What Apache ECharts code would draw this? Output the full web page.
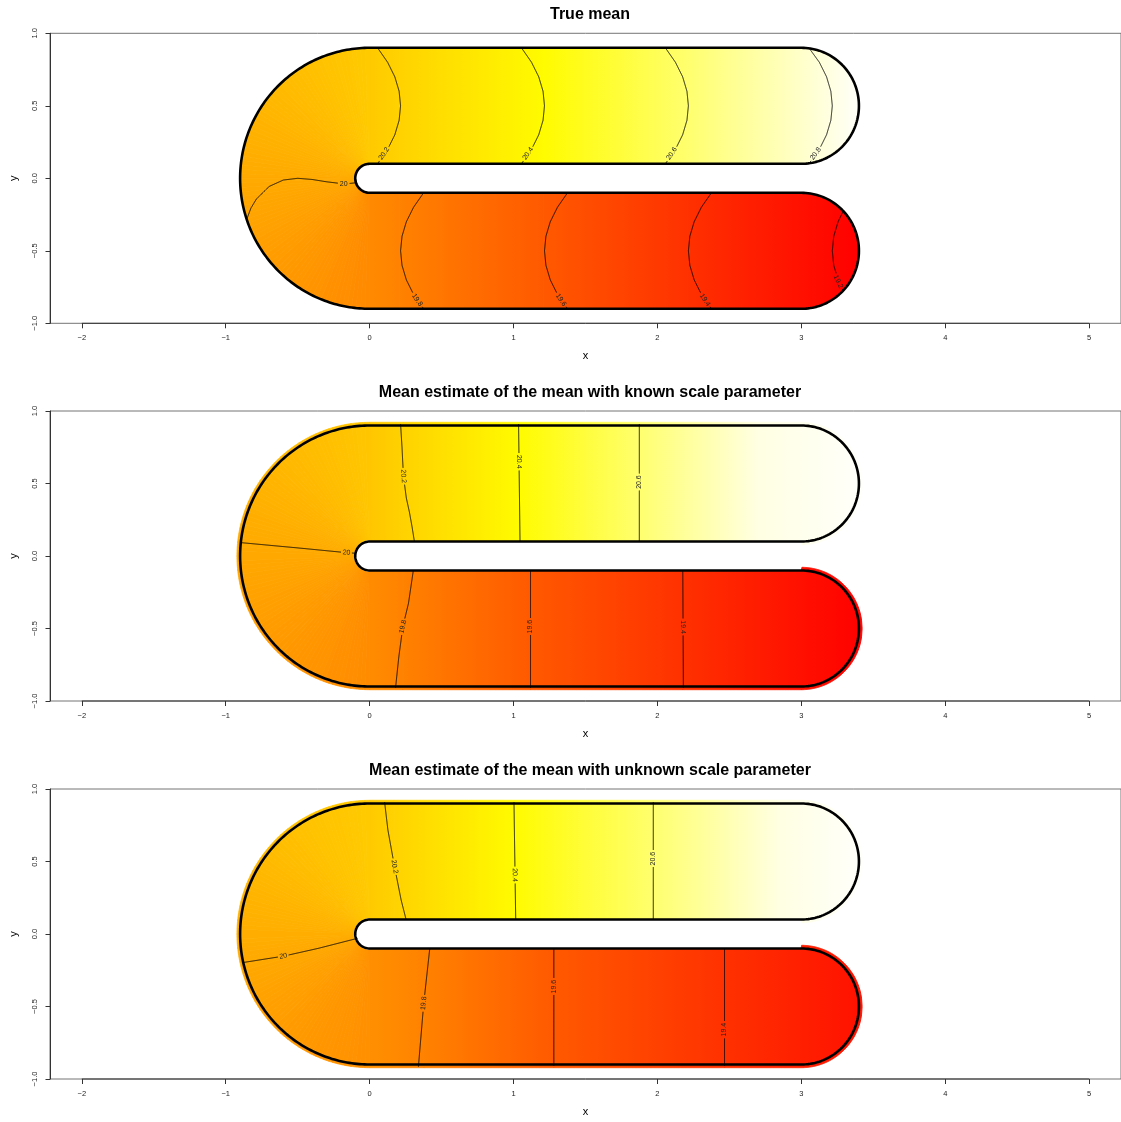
<!DOCTYPE html>
<html>
<head>
<meta charset="utf-8">
<script src="https://cdn.jsdelivr.net/npm/echarts@6/dist/echarts.min.js"></script>
<style>
  html, body { margin: 0; padding: 0; background: #ffffff; }
  #chart { width: 1121px; height: 1122px; }
</style>
</head>
<body>
<div id="chart"></div>
<script>
// ---------- horseshoe domain geometry ----------
const ARM_LENGTH = 3;     // length of the two straight arms
const CENTRE_R = 0.5;     // radius of the centre line through the bend
const HALF_WIDTH = 0.4;   // half width of the horseshoe

// ---------- axes ----------
const xTicks = [-2, -1, 0, 1, 2, 3, 4, 5];
const yTicks = [-1, -0.5, 0, 0.5, 1];
const panelTitles = [
  'True mean',
  'Mean estimate of the mean with known scale parameter',
  'Mean estimate of the mean with unknown scale parameter'
];

// colour scale limits (heat colours: red -> yellow -> white)
const zLimits = [19.16, 20.84];

// ---------- panel 1: true mean ----------
const trueUpperX = [0, 0.21, 1.21, 2.21, 3.21, 3.4];
const trueUpperV = [20.16, 20.2, 20.4, 20.6, 20.8, 20.84];
const trueLowerX = [0, 0.21, 1.21, 2.21, 3.21, 3.4];
const trueLowerV = [19.84, 19.8, 19.6, 19.4, 19.2, 19.16];
const trueBendAngle = [-90, -60, -30, 0, 30, 60, 90];
const trueBendV = [19.84, 19.895, 19.948, 20.0, 20.052, 20.105, 20.16];

const trueContours = [
  { level: '20.2', x: [0.055, 0.125, 0.175, 0.205, 0.215, 0.205, 0.175, 0.125, 0.055], y: [0.9, 0.8, 0.7, 0.6, 0.5, 0.4, 0.3, 0.2, 0.1], at: [0.10, 0.17] },
  { level: '20.4', x: [1.055, 1.125, 1.175, 1.205, 1.215, 1.205, 1.175, 1.125, 1.055], y: [0.9, 0.8, 0.7, 0.6, 0.5, 0.4, 0.3, 0.2, 0.1], at: [1.10, 0.17] },
  { level: '20.6', x: [2.055, 2.125, 2.175, 2.205, 2.215, 2.205, 2.175, 2.125, 2.055], y: [0.9, 0.8, 0.7, 0.6, 0.5, 0.4, 0.3, 0.2, 0.1], at: [2.10, 0.17] },
  { level: '20.8', x: [3.055, 3.125, 3.175, 3.205, 3.215, 3.205, 3.175, 3.125, 3.055], y: [0.896, 0.8, 0.7, 0.6, 0.5, 0.4, 0.3, 0.2, 0.104], at: [3.10, 0.17] },
  { level: '19.8', x: [0.375, 0.305, 0.255, 0.225, 0.215, 0.225, 0.255, 0.305, 0.375], y: [-0.1, -0.2, -0.3, -0.4, -0.5, -0.6, -0.7, -0.8, -0.9], at: [0.33, -0.84] },
  { level: '19.6', x: [1.375, 1.305, 1.255, 1.225, 1.215, 1.225, 1.255, 1.305, 1.375], y: [-0.1, -0.2, -0.3, -0.4, -0.5, -0.6, -0.7, -0.8, -0.9], at: [1.33, -0.84] },
  { level: '19.4', x: [2.375, 2.305, 2.255, 2.225, 2.215, 2.225, 2.255, 2.305, 2.375], y: [-0.1, -0.2, -0.3, -0.4, -0.5, -0.6, -0.7, -0.8, -0.9], at: [2.33, -0.84] },
  { level: '19.2', x: [3.291, 3.255, 3.225, 3.215, 3.225, 3.255, 3.291], y: [-0.225, -0.3, -0.4, -0.5, -0.6, -0.7, -0.775], at: [3.256, -0.713] },
  { level: '20', x: [-0.854, -0.825, -0.787, -0.698, -0.6, -0.5, -0.4, -0.3, -0.2, -0.146, -0.095], y: [-0.283, -0.206, -0.143, -0.056, -0.012, 0, -0.008, -0.024, -0.036, -0.036, -0.031], at: [-0.18, -0.037] }
];

// ---------- panel 2: known scale parameter ----------
const knownUpperX = [0, 0.235, 1.04, 1.874, 2.7, 3.4];
const knownUpperV = [20.14, 20.2, 20.4, 20.6, 20.8, 20.95];
const knownLowerX = [0, 0.23, 1.118, 2.176, 3.0, 3.4];
const knownLowerV = [19.85, 19.8, 19.6, 19.4, 19.24, 19.17];
const knownBendAngle = [-90, -60, -30, 0, 30, 60, 90];
const knownBendV = [19.85, 19.895, 19.94, 19.99, 20.04, 20.09, 20.14];

const knownContours = [
  { level: '20.2', x: [0.215, 0.225, 0.235, 0.255, 0.277, 0.295, 0.311], y: [0.91, 0.75, 0.55, 0.4, 0.3, 0.2, 0.1], at: [0.235, 0.55] },
  { level: '20.4', x: [1.035, 1.04, 1.045], y: [0.91, 0.5, 0.1], at: [1.038, 0.65] },
  { level: '20.6', x: [1.874, 1.874], y: [0.91, 0.1], at: [1.874, 0.51] },
  { level: '20', x: [-0.892, -0.47, -0.161, -0.099], y: [0.092, 0.053, 0.023, 0.019], at: [-0.161, 0.023] },
  { level: '19.8', x: [0.304, 0.27, 0.231, 0.203, 0.18], y: [-0.097, -0.326, -0.487, -0.694, -0.91], at: [0.231, -0.487] },
  { level: '19.6', x: [1.118, 1.118], y: [-0.1, -0.91], at: [1.118, -0.487] },
  { level: '19.4', x: [2.176, 2.18], y: [-0.1, -0.91], at: [2.177, -0.49] }
];

// ---------- panel 3: unknown scale parameter ----------
const unknownUpperX = [0, 0.17, 1.01, 1.971, 2.85, 3.4];
const unknownUpperV = [20.16, 20.2, 20.4, 20.6, 20.8, 20.92];
const unknownLowerX = [0, 0.376, 1.28, 2.466, 3.4];
const unknownLowerV = [19.87, 19.8, 19.6, 19.4, 19.25];
const unknownBendAngle = [-90, -60, -30, 0, 30, 60, 90];
const unknownBendV = [19.87, 19.91, 19.96, 20.02, 20.07, 20.12, 20.16];

const unknownContours = [
  { level: '20.2', x: [0.104, 0.127, 0.173, 0.219, 0.254], y: [0.91, 0.717, 0.464, 0.234, 0.097], at: [0.173, 0.464] },
  { level: '20.4', x: [1.003, 1.015], y: [0.91, 0.1], at: [1.008, 0.407] },
  { level: '20.6', x: [1.971, 1.971], y: [0.91, 0.1], at: [1.971, 0.52] },
  { level: '20', x: [-0.887, -0.6, -0.357, -0.085], y: [-0.198, -0.153, -0.099, -0.03], at: [-0.6, -0.153] },
  { level: '19.8', x: [0.418, 0.376, 0.339], y: [-0.099, -0.478, -0.915], at: [0.376, -0.478] },
  { level: '19.6', x: [1.28, 1.28], y: [-0.1, -0.91], at: [1.28, -0.363] },
  { level: '19.4', x: [2.466, 2.466], y: [-0.1, -0.91], at: [2.466, -0.66] }
];

// ---------- layout ----------
const FONT = '"Liberation Sans", Arial, Helvetica, sans-serif';
const gridTops = [33.3, 411, 789];
const titleTops = [2, 380, 758];
const fringePad = [0, 0.022, 0.022];   // raster cells spilling over the outer edge
const innerPad = [0, 0.012, 0.012];    // raster cells falling short of the inner bend

const panels = [
  { upperX: trueUpperX, upperV: trueUpperV, lowerX: trueLowerX, lowerV: trueLowerV, bendA: trueBendAngle, bendV: trueBendV, contours: trueContours },
  { upperX: knownUpperX, upperV: knownUpperV, lowerX: knownLowerX, lowerV: knownLowerV, bendA: knownBendAngle, bendV: knownBendV, contours: knownContours },
  { upperX: unknownUpperX, upperV: unknownUpperV, lowerX: unknownLowerX, lowerV: unknownLowerV, bendA: unknownBendAngle, bendV: unknownBendV, contours: unknownContours }
];

// R-style heat colour ramp
function heatColor(v) {
  let f = (v - zLimits[0]) / (zLimits[1] - zLimits[0]);
  f = Math.max(0, Math.min(1, f));
  let g, b;
  if (f <= 0.75) { g = 255 * f / 0.75; b = 0; }
  else { g = 255; const s = 0.98 - 0.96 * (f - 0.75) / 0.25; b = 255 * (1 - s); }
  return 'rgb(255,' + Math.round(g) + ',' + Math.round(b) + ')';
}

function fmtNum(v) {
  return (v < 0 ? '\u2212' : '') + Math.abs(v);
}

// consecutive stop pairs -> one strip each
function stopPairs(xs, vs) {
  const out = [];
  for (let i = 0; i < xs.length - 1; i++) {
    out.push([xs[i], vs[i], xs[i + 1], vs[i + 1], i === xs.length - 2 ? 1 : 0]);
  }
  return out;
}

// one colour strip of an arm (straight part and end cap)
function armRenderer(yc, pad) {
  return function (params, api) {
    const xa = api.value(0), va = api.value(1), xb = api.value(2), vb = api.value(3), last = api.value(4);
    const h = HALF_WIDTH, R = h + pad;
    const xEnd = last ? ARM_LENGTH + R : xb;
    const edge = function (x, side) {
      if (x <= ARM_LENGTH) {
        const outer = (side > 0) === (yc > 0);
        return yc + side * (outer ? h + pad : h);
      }
      const dx = x - ARM_LENGTH;
      return yc + side * Math.sqrt(Math.max(0, R * R - dx * dx));
    };
    const n = Math.max(2, Math.ceil((xEnd - xa) / 0.004));
    const top = [], bot = [];
    for (let k = 0; k <= n; k++) {
      const x = xa + (xEnd - xa) * k / n;
      top.push(api.coord([x, edge(x, 1)]));
      bot.push(api.coord([x, edge(x, -1)]));
    }
    const pts = top.concat(bot.reverse());
    const p0 = api.coord([xa, yc]), p1 = api.coord([xb, yc]);
    const grad = {
      type: 'linear', x: p0[0], y: p0[1], x2: p1[0], y2: p1[1], global: true,
      colorStops: [{ offset: 0, color: heatColor(va) }, { offset: 1, color: heatColor(vb) }]
    };
    return { type: 'polygon', shape: { points: pts }, style: { fill: grad, stroke: grad, lineWidth: 1 } };
  };
}

// one sector of the bend, shaded in thin slices
function bendRenderer(pad, inPad) {
  return function (params, api) {
    const pa = api.value(0), va = api.value(1), pb = api.value(2), vb = api.value(3);
    const rOut = CENTRE_R + HALF_WIDTH + pad, rIn = CENTRE_R - HALF_WIDTH + inPad;
    const steps = Math.max(1, Math.ceil((pb - pa) / 2));
    const children = [];
    for (let k = 0; k < steps; k++) {
      const a0 = pa + (pb - pa) * k / steps, a1 = pa + (pb - pa) * (k + 1) / steps;
      const col = heatColor(va + (vb - va) * (k + 0.5) / steps);
      const pts = [];
      const m = 3;
      for (let j = 0; j <= m; j++) {
        const t = (180 - (a0 + (a1 - a0) * j / m)) * Math.PI / 180;
        pts.push(api.coord([rOut * Math.cos(t), rOut * Math.sin(t)]));
      }
      for (let j = m; j >= 0; j--) {
        const t = (180 - (a0 + (a1 - a0) * j / m)) * Math.PI / 180;
        pts.push(api.coord([rIn * Math.cos(t), rIn * Math.sin(t)]));
      }
      children.push({ type: 'polygon', shape: { points: pts }, style: { fill: col, stroke: col, lineWidth: 0.8 } });
    }
    return { type: 'group', children: children };
  };
}

// outline of the horseshoe in data coordinates
function boundaryPoints() {
  const pts = [];
  const arc = function (cx, cy, r, t0, t1, n) {
    for (let k = 0; k <= n; k++) {
      const t = (t0 + (t1 - t0) * k / n) * Math.PI / 180;
      pts.push([cx + r * Math.cos(t), cy + r * Math.sin(t)]);
    }
  };
  const L = ARM_LENGTH, h = HALF_WIDTH, rc = CENTRE_R;
  pts.push([0, rc + h]);
  arc(L, rc, h, 90, -90, 80);
  arc(0, 0, rc - h, 90, 270, 40);
  arc(L, -rc, h, 90, -90, 80);
  arc(0, 0, rc + h, 270, 90, 160);
  return pts;
}
const outline = boundaryPoints();

const measureCtx = document.createElement('canvas').getContext('2d');
const LABEL_SIZE = 7;
function textWidth(s) {
  measureCtx.font = LABEL_SIZE + 'px ' + FONT;
  return measureCtx.measureText(s).width;
}

// contour line broken around its inline label
function contourRenderer(list) {
  return function (params, api) {
    const c = list[params.dataIndex];
    const pix = c.x.map(function (x, i) { return api.coord([x, c.y[i]]); });
    const lc = api.coord(c.at);
    const rad = textWidth(c.level) / 2 + 1.5;
    const runs = [];
    let cur = [];
    for (let i = 0; i < pix.length - 1; i++) {
      const x0 = pix[i][0], y0 = pix[i][1], x1 = pix[i + 1][0], y1 = pix[i + 1][1];
      const n = Math.max(1, Math.ceil(Math.hypot(x1 - x0, y1 - y0) / 0.5));
      for (let k = (i === 0 ? 0 : 1); k <= n; k++) {
        const x = x0 + (x1 - x0) * k / n, y = y0 + (y1 - y0) * k / n;
        if (Math.hypot(x - lc[0], y - lc[1]) < rad) {
          if (cur.length > 1) runs.push(cur);
          cur = [];
        } else {
          cur.push([x, y]);
        }
      }
    }
    if (cur.length > 1) runs.push(cur);
    // direction of the nearest segment
    let best = Infinity, dir = [0, 1];
    for (let i = 0; i < pix.length - 1; i++) {
      const ax = pix[i][0], ay = pix[i][1], bx = pix[i + 1][0], by = pix[i + 1][1];
      const vx = bx - ax, vy = by - ay;
      const L2 = vx * vx + vy * vy || 1;
      let t = ((lc[0] - ax) * vx + (lc[1] - ay) * vy) / L2;
      t = Math.max(0, Math.min(1, t));
      const d = Math.hypot(ax + t * vx - lc[0], ay + t * vy - lc[1]);
      if (d < best) { best = d; dir = [vx, vy]; }
    }
    let ang = Math.atan2(-dir[1], dir[0]);
    if (ang > Math.PI / 2) ang -= Math.PI;
    if (ang <= -Math.PI / 2) ang += Math.PI;
    const children = runs.map(function (r) {
      return { type: 'polyline', shape: { points: r }, style: { stroke: '#000', lineWidth: 0.9, fill: null } };
    });
    children.push({
      type: 'text', x: lc[0], y: lc[1], rotation: ang,
      style: { text: c.level, fontSize: LABEL_SIZE, fontFamily: FONT, fill: '#222', align: 'center', verticalAlign: 'middle' }
    });
    return { type: 'group', children: children };
  };
}

const grids = [], xAxes = [], yAxes = [], titles = [], series = [];
panels.forEach(function (p, i) {
  grids.push({ left: 47, top: gridTops[i], width: 1076, height: 290, show: true, borderColor: '#747474', borderWidth: 1, backgroundColor: 'transparent' });
  xAxes.push({
    type: 'value', gridIndex: i, min: -2.221, max: 5.221,
    name: 'x', nameLocation: 'middle', nameGap: 27,
    nameTextStyle: { fontSize: 11, fontFamily: FONT, color: '#000' },
    axisLine: { show: false, onZero: false },
    axisTick: { show: true, length: 5, customValues: xTicks, lineStyle: { color: '#333' } },
    axisLabel: { customValues: xTicks, fontSize: 7.5, fontFamily: FONT, color: '#222', margin: 11, formatter: fmtNum },
    splitLine: { show: false }
  });
  yAxes.push({
    type: 'value', gridIndex: i, min: yTicks[0], max: yTicks[yTicks.length - 1], interval: 0.5,
    name: 'y', nameLocation: 'middle', nameGap: 31, nameRotate: 90,
    nameTextStyle: { fontSize: 11, fontFamily: FONT, color: '#000' },
    axisLine: { show: true, onZero: false, lineStyle: { color: '#333', width: 1 } },
    axisTick: { show: true, length: 4.5, lineStyle: { color: '#333' } },
    axisLabel: { rotate: 90, fontSize: 7.5, fontFamily: FONT, color: '#222', margin: 11, formatter: function (v) { return (v < 0 ? '\u2212' : '') + Math.abs(v).toFixed(1); } },
    splitLine: { show: false }
  });
  titles.push({
    text: panelTitles[i], left: 585, top: titleTops[i], textAlign: 'center',
    textStyle: { fontSize: 16, fontWeight: 'bold', fontFamily: FONT, color: '#000' }
  });

  const common = { type: 'custom', xAxisIndex: i, yAxisIndex: i, silent: true, animation: false, clip: false };
  series.push(Object.assign({}, common, { name: 'upper arm ' + i, z: 1, renderItem: armRenderer(CENTRE_R, fringePad[i]), data: stopPairs(p.upperX, p.upperV) }));
  series.push(Object.assign({}, common, { name: 'lower arm ' + i, z: 1, renderItem: armRenderer(-CENTRE_R, fringePad[i]), data: stopPairs(p.lowerX, p.lowerV) }));
  series.push(Object.assign({}, common, { name: 'bend ' + i, z: 1, renderItem: bendRenderer(fringePad[i], innerPad[i]), data: stopPairs(p.bendA, p.bendV) }));
  series.push(Object.assign({}, common, {
    name: 'contours ' + i, z: 3, renderItem: contourRenderer(p.contours),
    data: p.contours.map(function (c) { return [c.at[0], c.at[1], parseFloat(c.level)]; })
  }));
  series.push(Object.assign({}, common, {
    name: 'boundary ' + i, z: 4,
    renderItem: function (params, api) {
      return { type: 'polygon', shape: { points: outline.map(function (q) { return api.coord(q); }) }, style: { fill: null, stroke: '#000', lineWidth: 2.6, lineJoin: 'round' } };
    },
    data: [[0, 0]]
  }));
  // bottom axis line spanning first to last tick
  series.push({
    type: 'line', xAxisIndex: i, yAxisIndex: i, silent: true, animation: false, clip: false, z: 5,
    showSymbol: false, symbol: 'none', lineStyle: { color: '#333', width: 1 },
    data: [[xTicks[0], yTicks[0]], [xTicks[xTicks.length - 1], yTicks[0]]]
  });
});

const chart = echarts.init(document.getElementById('chart'), null, { renderer: 'canvas', width: 1121, height: 1122 });
chart.setOption({
  animation: false,
  backgroundColor: '#ffffff',
  title: titles,
  grid: grids,
  xAxis: xAxes,
  yAxis: yAxes,
  series: series
});
</script>
</body>
</html>
